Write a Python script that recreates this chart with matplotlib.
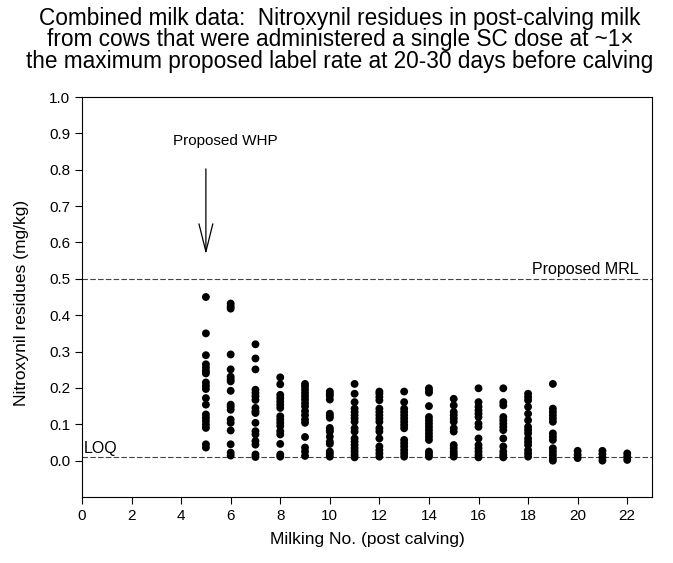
import matplotlib
matplotlib.use('Agg')
import matplotlib.pyplot as plt
import numpy as np

plt.rcParams['font.family'] = ['Liberation Sans', 'DejaVu Sans']

# residues (mg/kg) read per milking number
milk5 = [0.45, 0.35, 0.29, 0.265, 0.256, 0.247, 0.24, 0.215, 0.206, 0.197, 0.172, 0.154,
         0.127, 0.118, 0.109, 0.099, 0.09, 0.045, 0.036]
milk6 = [0.432, 0.424, 0.418, 0.292, 0.251, 0.231, 0.224, 0.218, 0.192, 0.154, 0.148,
         0.14, 0.113, 0.104, 0.083, 0.045, 0.022, 0.014]
milk7 = [0.32, 0.281, 0.251, 0.195, 0.186, 0.177, 0.167, 0.145, 0.136, 0.131, 0.104,
         0.081, 0.072, 0.054, 0.044, 0.017, 0.01]
milk8 = [0.229, 0.21, 0.181, 0.172, 0.163, 0.154, 0.145, 0.122, 0.113, 0.104, 0.095,
         0.081, 0.072, 0.046, 0.017, 0.011]
milk9 = [0.211, 0.204, 0.195, 0.186, 0.177, 0.168, 0.158, 0.149, 0.136, 0.125, 0.113,
         0.104, 0.065, 0.036, 0.025, 0.013]
milk10 = [0.19, 0.184, 0.178, 0.168, 0.129, 0.123, 0.118, 0.09, 0.084, 0.08, 0.066,
          0.052, 0.046, 0.025, 0.019, 0.011]
milk11 = [0.211, 0.184, 0.161, 0.143, 0.134, 0.125, 0.116, 0.107, 0.089, 0.08, 0.061,
          0.052, 0.043, 0.034, 0.025, 0.016, 0.009]
milk12 = [0.19, 0.184, 0.175, 0.166, 0.143, 0.134, 0.125, 0.116, 0.107, 0.089, 0.08,
          0.061, 0.039, 0.029, 0.02, 0.011]
milk13 = [0.19, 0.161, 0.143, 0.134, 0.125, 0.116, 0.107, 0.098, 0.089, 0.057, 0.048,
          0.039, 0.029, 0.02, 0.011]
milk14 = [0.199, 0.193, 0.187, 0.15, 0.12, 0.111, 0.102, 0.093, 0.084, 0.075, 0.066,
          0.057, 0.025, 0.018, 0.011]
milk15 = [0.17, 0.152, 0.134, 0.125, 0.116, 0.107, 0.089, 0.08, 0.043, 0.034, 0.025,
          0.018, 0.011]
milk16 = [0.199, 0.161, 0.148, 0.138, 0.129, 0.12, 0.102, 0.093, 0.061, 0.043, 0.034,
          0.025, 0.016, 0.009]
milk17 = [0.199, 0.161, 0.152, 0.12, 0.111, 0.102, 0.093, 0.084, 0.061, 0.039, 0.025,
          0.016, 0.009]
milk18 = [0.184, 0.175, 0.166, 0.148, 0.129, 0.111, 0.093, 0.084, 0.075, 0.061, 0.052,
          0.043, 0.029, 0.02, 0.011]
milk19 = [0.211, 0.143, 0.134, 0.125, 0.116, 0.107, 0.075, 0.066, 0.057, 0.034, 0.025,
          0.016, 0.007, 0.0]
milk20 = [0.027, 0.016, 0.007]
milk21 = [0.027, 0.018, 0.009, 0.0]
milk22 = [0.02, 0.011, 0.002]

milkings = list(range(5, 23))
residues = [milk5, milk6, milk7, milk8, milk9, milk10, milk11, milk12, milk13, milk14,
            milk15, milk16, milk17, milk18, milk19, milk20, milk21, milk22]

title_lines = ['Combined milk data:  Nitroxynil residues in post-calving milk',
               'from cows that were administered a single SC dose at ~1\u00d7',
               'the maximum proposed label rate at 20-30 days before calving']

mrl = 0.5
loq = 0.01
whp = 5

fig = plt.figure(figsize=(6.73, 5.63), dpi=100)
ax = fig.add_axes([0.1218, 0.1172, 0.847, 0.7105])

for m, vals in zip(milkings, residues):
    ax.scatter(np.full(len(vals), m), vals, s=32, c='black', edgecolors='none', zorder=3)

ax.axhline(mrl, color='#444444', lw=0.8, dashes=(5, 2), zorder=1)
ax.axhline(loq, color='#444444', lw=0.8, dashes=(5, 2), zorder=1)
ax.text(22.45, mrl + 0.004, 'Proposed MRL', ha='right', va='bottom', fontsize=11.5)
ax.text(0.08, loq + 0.002, 'LOQ', ha='left', va='bottom', fontsize=11.5)

ax.annotate('', xy=(whp, 0.56), xytext=(whp, 0.81),
            arrowprops=dict(arrowstyle='->,head_length=1.0,head_width=0.25',
                            mutation_scale=20, lw=0.9, color='black'))
ax.text(whp + 0.77, 0.878, 'Proposed WHP', ha='center', va='center', fontsize=11)

ax.set_xlim(0, 23)
ax.set_ylim(-0.1, 1.0)
ax.set_xticks(np.arange(0, 23, 2))
ax.set_yticks(np.round(np.arange(0, 1.01, 0.1), 1))
ax.yaxis.set_major_formatter(matplotlib.ticker.FormatStrFormatter('%.1f'))
ax.tick_params(direction='out', length=5, width=0.8, labelsize=11, top=False, right=False)
for s in ax.spines.values():
    s.set_linewidth(0.8)

ax.set_xlabel('Milking No. (post calving)', fontsize=12.5)
ax.set_ylabel('Nitroxynil residues (mg/kg)', fontsize=12.5)
ax.xaxis.set_label_coords(0.5, -0.088)
ax.yaxis.set_label_coords(-0.093, 0.485)

for i, line in enumerate(title_lines):
    fig.text(0.505, 0.968 - i * 0.039, line, ha='center', va='center', fontsize=16.3)

fig.savefig('out.png', dpi=100)
